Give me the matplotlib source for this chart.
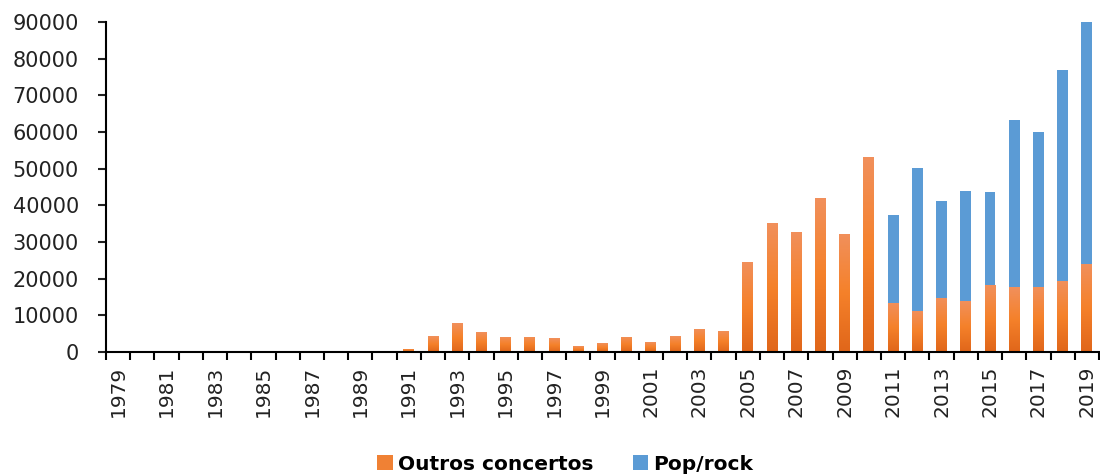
import numpy as np
import matplotlib
matplotlib.use("Agg")
import matplotlib.pyplot as plt
from matplotlib.colors import LinearSegmentedColormap
from matplotlib.patches import Patch

years = list(range(1979, 2020))
outros = [0, 0, 0, 0, 0, 0, 0, 0, 0, 0,          # 1979-1988
          300, 0, 900, 4300, 7900, 5400, 4100, 4100, 3800, 1600,   # 1989-1998
          2400, 4100, 2700, 4300, 6400, 5800, 24600, 35300, 32800, 42100,  # 1999-2008
          32300, 53300, 13400, 11300, 14800, 13900, 18200, 17600, 17800, 19400,  # 2009-2018
          24000]  # 2019
pop_rock = [0] * 32 + [24000, 38900, 26400, 30100, 25500, 45700, 42300, 57600, 66000]  # 2011-2019

series_names = ["Outros concertos", "Pop/rock"]
yticks = [0, 10000, 20000, 30000, 40000, 50000, 60000, 70000, 80000, 90000]

orange = "#F08134"
blue = "#5B9BD5"
grad = LinearSegmentedColormap.from_list("og", ["#E0661A", "#F5812A", "#F1905C"])

plt.rcParams['font.family'] = ['DejaVu Sans']

fig = plt.figure(figsize=(11, 4.75), dpi=100)
ax = fig.add_axes([106/1100, 123/475, 993/1100, 330/475])

x = np.arange(len(years))
w = 0.45
bars_o = ax.bar(x, outros, width=w, color=orange, linewidth=0, zorder=2)
bars_p = ax.bar(x, pop_rock, width=w, bottom=outros, color=blue, linewidth=0, zorder=2)

# gradient fill for orange bars
gimg = np.linspace(0, 1, 256).reshape(-1, 1)
for b in bars_o:
    h = b.get_height()
    if h <= 0:
        continue
    x0 = b.get_x()
    im = ax.imshow(gimg, cmap=grad, aspect='auto', origin='lower',
                   extent=[x0, x0 + b.get_width(), 0, h], zorder=2.5,
                   interpolation='bilinear')
    im.set_clip_path(b)

ax.set_xlim(-0.5, len(years) - 0.5)
ax.set_ylim(0, 90000)
ax.set_yticks(yticks)
ax.set_yticklabels([str(v) for v in yticks])

ax.set_xticks(x[::2])
ax.set_xticklabels([str(y) for y in years[::2]], rotation=90)
ax.set_xticks(np.arange(-0.5, len(years), 1.0), minor=True)

ax.tick_params(axis='y', which='major', length=5.5, width=1.5, pad=14,
               labelsize=15, colors='#222222')
ax.tick_params(axis='x', which='major', length=0, pad=10, labelsize=14.5,
               colors='#222222')
ax.tick_params(axis='x', which='minor', length=5.5, width=1.5, direction='out')

for s in ['top', 'right']:
    ax.spines[s].set_visible(False)
for s in ['left', 'bottom']:
    ax.spines[s].set_linewidth(1.5)
    ax.spines[s].set_color('black')

handles = [Patch(facecolor=orange, edgecolor='none'), Patch(facecolor=blue, edgecolor='none')]
leg = fig.legend(handles, series_names, loc='lower center', bbox_to_anchor=(0.514, -0.035),
                 ncol=2, frameon=False, prop={'weight': 'bold', 'size': 14.5},
                 handlelength=0.75, handleheight=0.75, handletextpad=0.25,
                 columnspacing=2.0)

fig.savefig("out.png", dpi=100)
